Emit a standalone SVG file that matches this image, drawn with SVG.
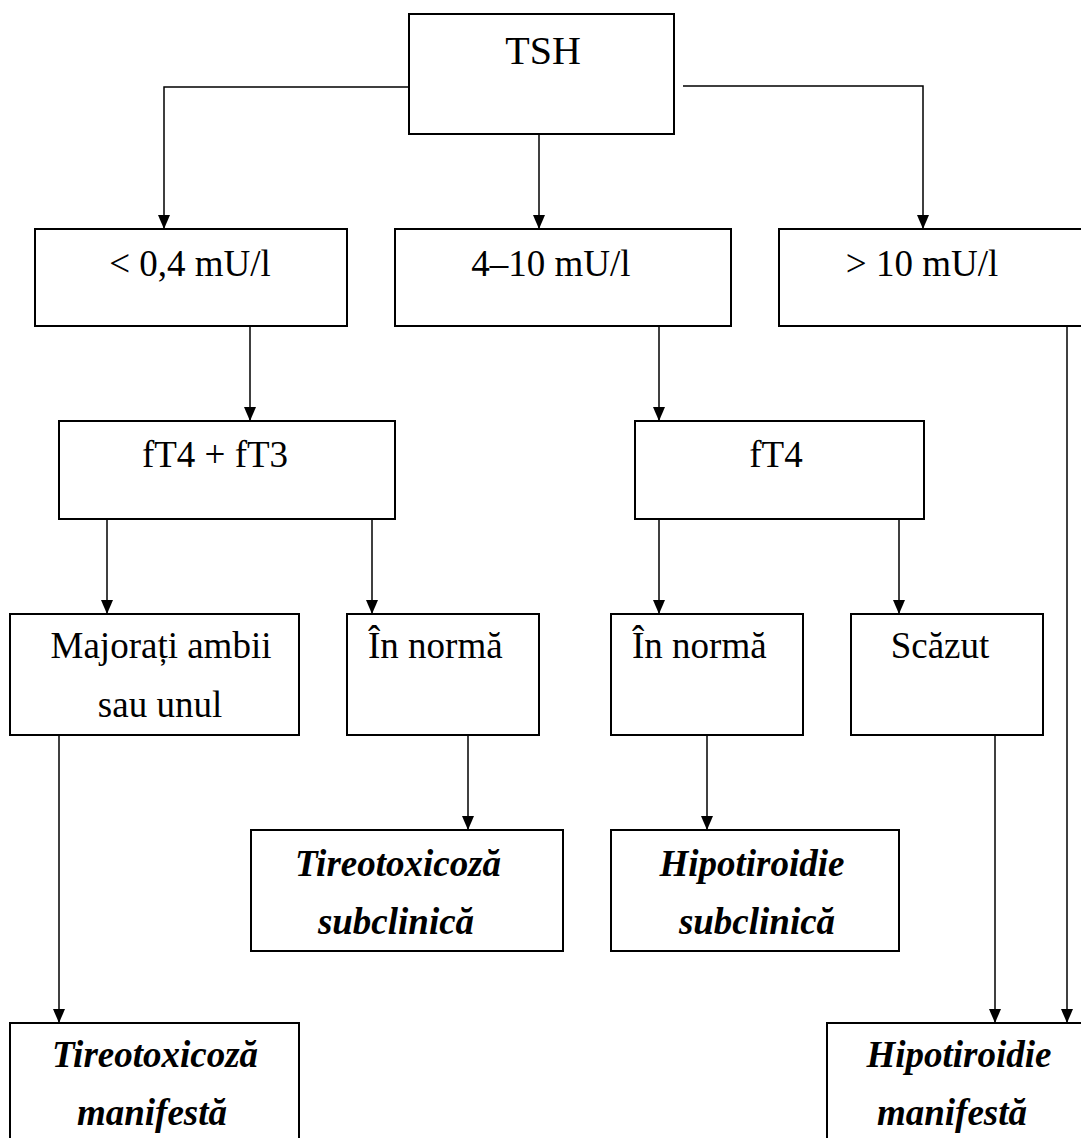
<svg xmlns="http://www.w3.org/2000/svg" width="1081" height="1138" viewBox="0 0 1081 1138">
<defs>
<marker id="arr" viewBox="0 0 14 12" refX="14" refY="6" markerWidth="14" markerHeight="12" orient="auto" markerUnits="userSpaceOnUse">
<path d="M0,0 L14,6 L0,12 z" fill="#000"/>
</marker>
</defs>
<style>
.box{fill:#fff;stroke:#000;stroke-width:2}
.t{font-size:37px;fill:#000}
.c{text-anchor:middle}
.bi{font-weight:bold;font-style:italic}
.ln{fill:none;stroke:#000;stroke-width:1.5}
</style>
<rect width="1081" height="1138" fill="#fff"/>
<g id="connectors">
<path class="ln" d="M409,87 H164 V229" marker-end="url(#arr)"/>
<path class="ln" d="M539,134 V229" marker-end="url(#arr)"/>
<path class="ln" d="M683,86 H923 V229" marker-end="url(#arr)"/>
<path class="ln" d="M250,326 V421" marker-end="url(#arr)"/>
<path class="ln" d="M659,326 V421" marker-end="url(#arr)"/>
<path class="ln" d="M1067,326 V1023" marker-end="url(#arr)"/>
<path class="ln" d="M107,519 V614" marker-end="url(#arr)"/>
<path class="ln" d="M372,519 V614" marker-end="url(#arr)"/>
<path class="ln" d="M659,519 V614" marker-end="url(#arr)"/>
<path class="ln" d="M899,519 V614" marker-end="url(#arr)"/>
<path class="ln" d="M59,735 V1023" marker-end="url(#arr)"/>
<path class="ln" d="M468,735 V830" marker-end="url(#arr)"/>
<path class="ln" d="M707,735 V830" marker-end="url(#arr)"/>
<path class="ln" d="M995,735 V1023" marker-end="url(#arr)"/>
</g>
<g font-family="Liberation Serif, Tinos, Times New Roman, DejaVu Serif, serif">
<g id="tsh"><rect class="box" x="409" y="14" width="265" height="120"/><text class="t c" x="543" y="64" style="font-size:40px">TSH</text></g>
<g id="low"><rect class="box" x="35" y="229" width="312" height="97"/><text class="t c" x="190" y="276">&lt; 0,4 mU/l</text></g>
<g id="mid"><rect class="box" x="395" y="229" width="336" height="97"/><text class="t c" x="551" y="276">4–10 mU/l</text></g>
<g id="high"><rect class="box" x="779" y="229" width="310" height="97"/><text class="t c" x="922" y="276">&gt; 10 mU/l</text></g>
<g id="ft4ft3"><rect class="box" x="59" y="421" width="336" height="98"/><text class="t c" x="215" y="467">fT4 + fT3</text></g>
<g id="ft4"><rect class="box" x="635" y="421" width="289" height="98"/><text class="t c" x="776" y="467">fT4</text></g>
<g id="majorati"><rect class="box" x="10" y="614" width="289" height="121"/><text class="t c" x="161" y="658">Majorați ambii</text><text class="t c" x="160" y="717">sau unul</text></g>
<g id="innorma1"><rect class="box" x="347" y="614" width="192" height="121"/><text class="t" x="368" y="658">În normă</text></g>
<g id="innorma2"><rect class="box" x="611" y="614" width="192" height="121"/><text class="t" x="632" y="658">În normă</text></g>
<g id="scazut"><rect class="box" x="851" y="614" width="192" height="121"/><text class="t c" x="940" y="658">Scăzut</text></g>
<g id="tireosub"><rect class="box" x="251" y="830" width="312" height="121"/><text class="t c bi" x="398" y="876">Tireotoxicoză</text><text class="t c bi" x="396" y="934">subclinică</text></g>
<g id="hiposub"><rect class="box" x="611" y="830" width="288" height="121"/><text class="t c bi" x="752" y="876">Hipotiroidie</text><text class="t c bi" x="757" y="934">subclinică</text></g>
<g id="tireoman"><rect class="box" x="10" y="1023" width="289" height="130"/><text class="t c bi" x="155" y="1067">Tireotoxicoză</text><text class="t c bi" x="152" y="1125">manifestă</text></g>
<g id="hipoman"><rect class="box" x="827" y="1023" width="270" height="130"/><text class="t c bi" x="959" y="1067">Hipotiroidie</text><text class="t c bi" x="952" y="1125">manifestă</text></g>
</g>
</svg>
